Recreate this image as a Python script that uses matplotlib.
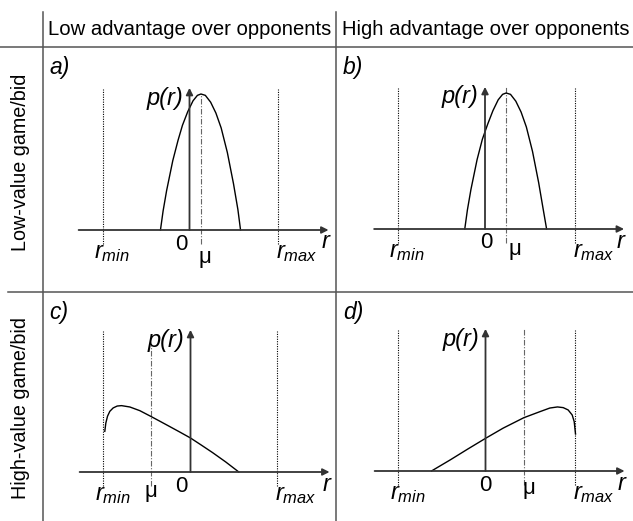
import numpy as np
import matplotlib.pyplot as plt

plt.rcParams['font.family'] = ['Liberation Sans', 'DejaVu Sans']
plt.rcParams['mathtext.fontset'] = 'custom'
plt.rcParams['mathtext.it'] = 'Liberation Sans:italic'
plt.rcParams['mathtext.rm'] = 'Liberation Sans'

#### Data ####
col_titles = ['Low advantage over opponents', 'High advantage over opponents']
row_titles = ['Low-value game/bid', 'High-value game/bid']
panel_tags = ['a)', 'b)', 'c)', 'd)']

# r in units of |r_min|~r_max, p(r) in units of the peak of panel a
r_min = [-0.98, -0.99, -0.99, -0.99]
r_max = [1.00, 1.02, 0.98, 1.02]
mu = [0.13, 0.24, -0.45, 0.44]

curve_a_r = [-0.33, -0.30, -0.26, -0.19, -0.13, -0.08, -0.02, 0.04, 0.09, 0.13,
             0.18, 0.24, 0.30, 0.36, 0.43, 0.50, 0.55, 0.58]
curve_a_p = [0.00, 0.14, 0.29, 0.51, 0.66, 0.77, 0.87, 0.95, 0.99, 1.00,
             0.99, 0.94, 0.86, 0.75, 0.57, 0.34, 0.15, 0.00]

curve_b_r = [-0.23, -0.20, -0.16, -0.09, -0.03, 0.03, 0.09, 0.15, 0.20, 0.24,
             0.29, 0.35, 0.41, 0.47, 0.54, 0.61, 0.66, 0.70]
curve_b_p = [0.00, 0.14, 0.29, 0.51, 0.66, 0.77, 0.87, 0.95, 0.99, 1.00,
             0.99, 0.94, 0.86, 0.75, 0.57, 0.34, 0.15, 0.00]

curve_c_r = [-0.974, -0.962, -0.943, -0.917, -0.879, -0.833, -0.784, -0.689,
             -0.576, -0.451, -0.35, -0.25, -0.125, 0.0, 0.125, 0.25, 0.40, 0.549]
curve_c_p = [0.299, 0.360, 0.410, 0.446, 0.471, 0.485, 0.488, 0.478,
             0.451, 0.409, 0.374, 0.339, 0.295, 0.250, 0.197, 0.143, 0.074, 0.0]

curve_d_r = [-0.614, -0.40, -0.20, 0.0, 0.20, 0.436, 0.617, 0.731, 0.818, 0.883,
             0.939, 0.985, 1.008, 1.023]
curve_d_p = [0.0, 0.082, 0.162, 0.240, 0.315, 0.392, 0.436, 0.463, 0.471, 0.466,
             0.449, 0.412, 0.363, 0.272]

curves_r = [curve_a_r, curve_b_r, curve_c_r, curve_d_r]
curves_p = [curve_a_p, curve_b_p, curve_c_p, curve_d_p]

#### Layout (pixels) ####
W, H = 633, 521
SX, SY = 88.0, 136.0               # px per data unit
origins = [(189.5, 230), (485, 229), (190.5, 472), (485.5, 471)]
cells = [(42.7, 47), (336, 47), (42.7, 292), (336, 292)]
mu_top = [1.0, 1.045, 0.94, 1.05]
zero_dx = [-8, 1, -9.5, 0]
mu_lab = [(4, -28), (9, -21), (0.5, -19), (5, -17)]
XL, XR, YT = -1.26, 1.58, 1.045
GRID = '#555555'
AXC = '#333333'

fig = plt.figure(figsize=(W / 100, H / 100), dpi=100)

# table grid + headers
bg = fig.add_axes([0, 0, 1, 1])
bg.set_xlim(0, W)
bg.set_ylim(H, 0)
bg.axis('off')
bg.plot([42.7, 42.7], [12, H], color=GRID, lw=1.1)
bg.plot([336, 336], [12, H], color=GRID, lw=1.1)
bg.plot([0, W], [47, 47], color=GRID, lw=1.1)
bg.plot([8, W], [292, 292], color=GRID, lw=1.1)
bg.text((42.7 + 336) / 2, 35, col_titles[0], ha='center', va='baseline', fontsize=14.6)
bg.text((336 + W) / 2 + 1, 35, col_titles[1], ha='center', va='baseline', fontsize=14.6)
bg.text(21, 162, row_titles[0], rotation=90, ha='center', va='center', fontsize=14.2)
bg.text(21, 408, row_titles[1], rotation=90, ha='center', va='center', fontsize=14.2)

for i in range(4):
    ox, oy = origins[i]
    x0, x1, y0, y1 = -1.6, 1.8, -0.45, 1.2
    left = (ox + x0 * SX) / W
    bottom = (H - (oy - y0 * SY)) / H
    ax = fig.add_axes([left, bottom, (x1 - x0) * SX / W, (y1 - y0) * SY / H])
    ax.set_xlim(x0, x1)
    ax.set_ylim(y0, y1)
    ax.axis('off')

    cx, cy = cells[i]
    bg.text(cx + 7, cy + 9, panel_tags[i], ha='left', va='top', fontsize=16.5, style='italic')

    # r_min / r_max guides
    for rv in (r_min[i], r_max[i]):
        ax.plot([rv, rv], [-0.1, 1.04], color='k', lw=0.8, ls=(0, (1, 1.2)))
    # mean
    ax.plot([mu[i], mu[i]], [-0.1, mu_top[i]], color='#666666', lw=0.8, ls=(0, (5, 1.5, 1, 1.5)))

    # axes with arrows
    ax.annotate('', xy=(XR, 0), xytext=(XL, 0),
                arrowprops=dict(arrowstyle='-|>', color=AXC, lw=1.3, mutation_scale=10, shrinkA=0, shrinkB=0))
    ax.annotate('', xy=(0, YT), xytext=(0, 0),
                arrowprops=dict(arrowstyle='-|>', color=AXC, lw=1.3, mutation_scale=10, shrinkA=0, shrinkB=0))

    # distribution
    ax.plot(curves_r[i], curves_p[i], color='k', lw=1.0)

    # labels
    ax.text(r_min[i] + 9 / SX, -23 / SY, '$r_{min}$', ha='center', va='center', fontsize=17)
    ax.text(r_max[i] + 19 / SX, -23 / SY, '$r_{max}$', ha='center', va='center', fontsize=17)
    ax.text(zero_dx[i] / SX, -14 / SY, '0', ha='center', va='center', fontsize=16)
    ax.text(mu[i] + mu_lab[i][0] / SX, mu_lab[i][1] / SY, 'μ', ha='center', va='center', fontsize=16)
    ax.text(XR - 3 / SX, -12 / SY, 'r', ha='center', va='center', fontsize=17, style='italic')
    ax.text(-25 / SX, 132 / SY, 'p(r)', ha='center', va='center', fontsize=17, style='italic')

fig.savefig('out.png', dpi=100)
